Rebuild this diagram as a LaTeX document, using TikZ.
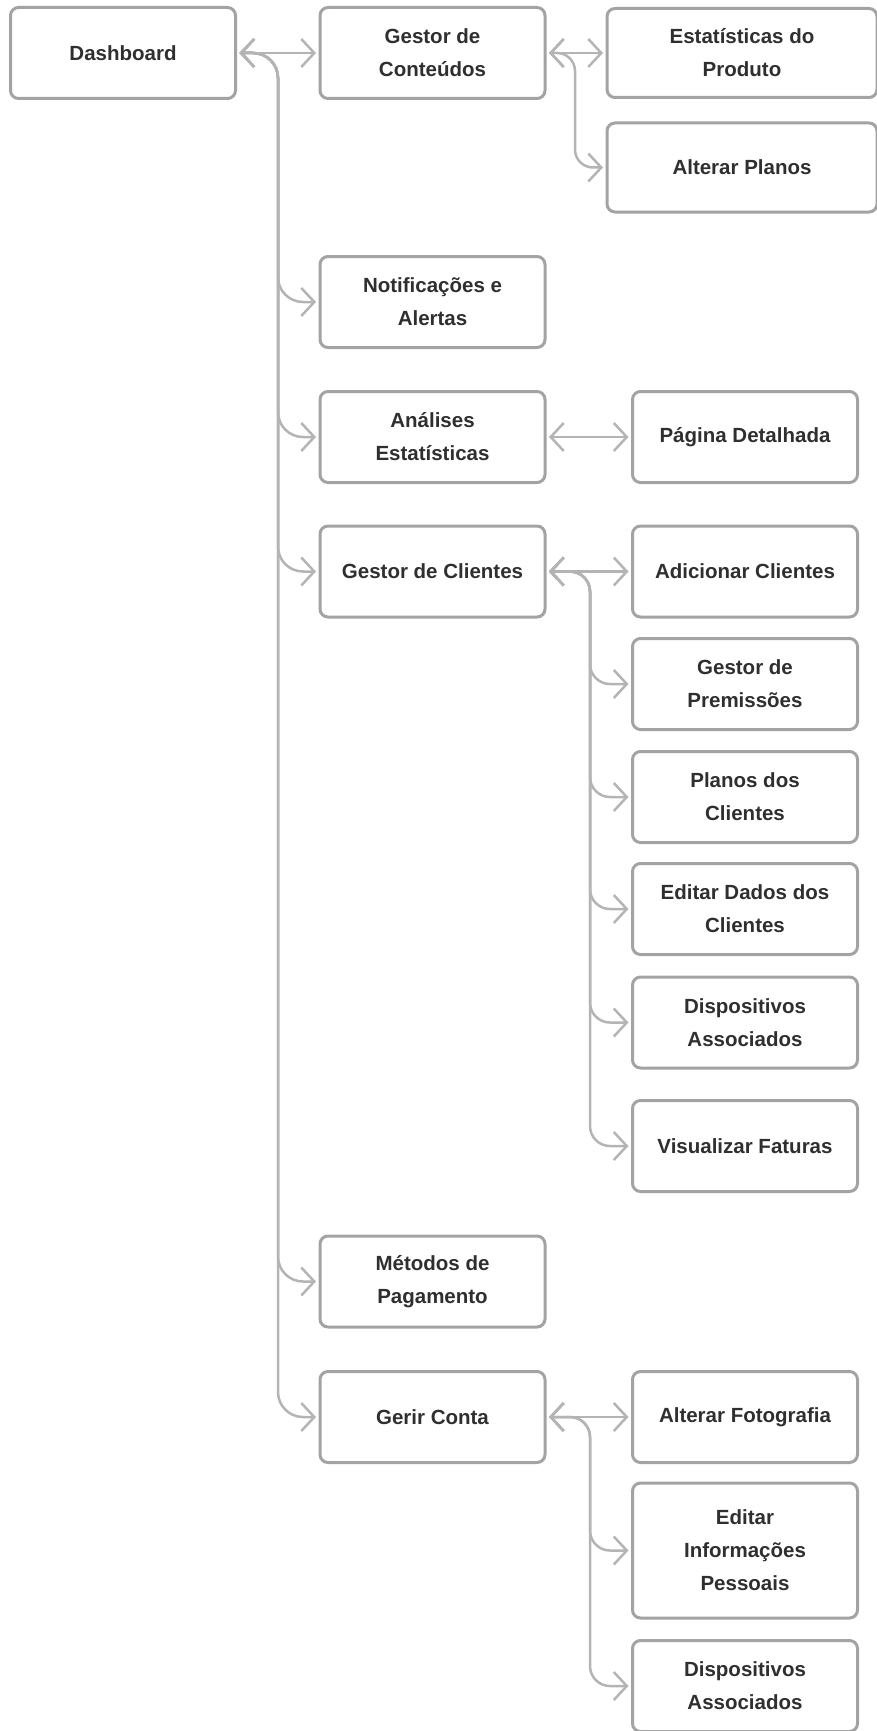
\documentclass[tikz,border=0pt]{standalone}
\usepackage{fontspec}
\setmainfont{Liberation Sans}
\usetikzlibrary{arrows.meta,positioning,calc}
\definecolor{boxgray}{HTML}{A3A3A3}
\definecolor{linegray}{HTML}{B4B4B4}
\definecolor{txtgray}{HTML}{2F2F2F}

\begin{document}
\begin{tikzpicture}[x=1pt, y=-1pt,
      blk/.style={draw=boxgray, line width=3pt, rounded corners=8pt, fill=white, align=center,
                  text=txtgray, font=\fontsize{20.5}{33}\selectfont\bfseries,
                  minimum width=225pt, minimum height=91pt, inner sep=0pt},
      wide/.style={blk, minimum width=270pt, minimum height=89pt},
      arr/.style={{Straight Barb[length=13pt,width=28pt]}-{Straight Barb[length=13pt,width=28pt]},
                  linegray, line width=2.5pt, rounded corners=25pt, shorten <=2.5pt, shorten >=2.5pt}]
    \useasboundingbox (0,0) rectangle (877,1731);
    % first column and its children
    \node[blk] (dash) at (123,53) {Dashboard};
    \node[blk] (gcont) at (432.5,53) {Gestor de\\Conteúdos};
    \node[wide] (estat) at (742,53) {Estatísticas do\\Produto};
    \node[wide] (aplan) at (742,167.5) {Alterar Planos};
    \node[blk] (notif) at (432.5,302) {Notificações e\\Alertas};
    \node[blk] (anal) at (432.5,437) {Análises\\Estatísticas};
    \node[blk] (pagdet) at (745,437) {Página Detalhada};
    \node[blk] (gcli) at (432.5,571.5) {Gestor de Clientes};
    \node[blk] (addcli) at (745,571.5) {Adicionar Clientes};
    \node[blk] (gprem) at (745,684) {Gestor de\\Premissões};
    \node[blk] (pcli) at (745,797) {Planos dos\\Clientes};
    \node[blk] (edcli) at (745,909) {Editar Dados dos\\Clientes};
    \node[blk] (dispcli) at (745,1022.5) {Dispositivos\\Associados};
    \node[blk] (visfat) at (745,1146) {Visualizar Faturas};
    \node[blk] (metpag) at (432.5,1281.5) {Métodos de\\Pagamento};
    \node[blk] (gconta) at (432.5,1417) {Gerir Conta};
    \node[blk] (altfoto) at (745,1417) {Alterar Fotografia};
    \node[blk, minimum height=135pt] (edinfo) at (745,1550.5) {Editar\\Informações\\Pessoais};
    \node[blk] (dispconta) at (745,1686) {Dispositivos\\Associados};
    % trunk lines
    \coordinate (tA) at (278,53);
    \coordinate (tB) at (575,53);
    \coordinate (tC) at (590,571.5);
    \coordinate (tD) at (590,1417);
    \draw[arr] (dash) -- (gcont);
    \foreach \n in {notif,anal,gcli,metpag,gconta}
      \draw[arr] (dash.east) -- (tA) |- (\n.west);
    \draw[arr] (gcont) -- (estat);
    \draw[arr, rounded corners=18pt] (gcont.east) -- (tB) |- (aplan.west);
    \draw[arr] (anal) -- (pagdet);
    \draw[arr] (gcli) -- (addcli);
    \foreach \n in {gprem,pcli,edcli,dispcli,visfat}
      \draw[arr, rounded corners=20pt] (gcli.east) -- (tC) |- (\n.west);
    \draw[arr] (gconta) -- (altfoto);
    \foreach \n in {edinfo,dispconta}
      \draw[arr, rounded corners=20pt] (gconta.east) -- (tD) |- (\n.west);
  \end{tikzpicture}
\end{document}
